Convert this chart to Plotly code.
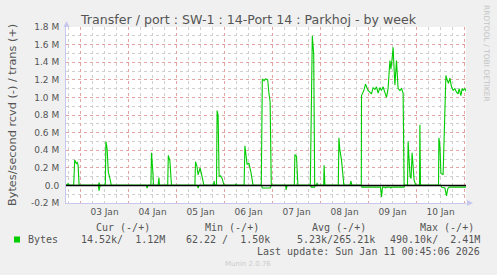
import plotly.graph_objects as go
import pandas as pd

# ---- data (values in M bytes/second, time in hours since 2026-01-02 00:00) ----
trans_hours = [16.75, 17.8, 18.4, 20.6, 21.1, 21.9, 22.4, 22.8, 23.3, 32.9, 33.3, 33.7,
               36.4, 36.7, 37.3, 37.9, 38.7, 39.4, 59.2, 59.5, 60.2, 60.5, 62.8, 63.2, 63.5,
               67.6, 67.9, 68.7, 69.5, 81.2, 81.5, 82.2, 82.8, 83.8, 84.8, 85.7,
               90.5, 90.8, 91.2, 92.0, 92.3, 92.8, 93.3, 94.0, 94.8, 95.8,
               101.4, 101.7, 102.0, 105.8, 106.2, 106.7, 107.3, 108.2, 109.2, 110.3,
               114.4, 114.9, 115.8, 116.6, 117.6, 118.2, 118.8, 119.4,
               130.9, 131.2, 132.0, 132.7, 138.9, 139.9, 140.3, 140.6, 141.1,
               142.0, 142.3, 142.6, 145.6, 145.8, 146.2,
               152.9, 153.2, 153.7, 154.5, 155.0, 155.7, 158.7, 159.2, 159.7,
               164.4, 164.5, 165.7, 166.5, 167.8, 169.5, 170.3, 171.2, 172.0, 172.8,
               173.7, 174.5, 175.3, 177.0, 177.8, 178.7, 179.2, 179.8, 180.3, 180.8,
               181.2, 182.0, 182.8, 183.7, 184.5, 185.3, 185.8,
               187.5, 187.8, 188.3, 188.8, 189.3, 189.8, 190.3, 190.8, 191.7,
               193.5, 193.7, 194.0,
               203.0, 203.2, 203.7, 204.2, 205.3, 206.2, 206.7, 207.3, 208.0, 208.7,
               209.5, 210.3, 211.2, 212.0, 212.8, 213.3, 214.2, 214.8, 215.3, 216.2, 216.75]
trans_values = [0.00, 0.02, 0.00, 0.00, 0.29, 0.25, 0.26, 0.23, 0.00, 0.00, 0.03, 0.00,
                0.00, 0.50, 0.42, 0.15, 0.08, 0.00, 0.00, 0.37, 0.15, 0.00, 0.00, 0.09, 0.00,
                0.00, 0.34, 0.28, 0.00, 0.00, 0.27, 0.22, 0.12, 0.20, 0.10, 0.00,
                0.00, 0.05, 0.00, 0.00, 0.85, 0.80, 0.10, 0.11, 0.08, 0.00,
                0.00, 0.02, 0.00, 0.00, 0.45, 0.33, 0.24, 0.25, 0.15, 0.00,
                0.00, 1.21, 1.19, 1.21, 1.20, 1.05, 0.95, 0.00,
                0.00, 0.35, 0.33, 0.00, 0.00, 1.70, 1.52, 1.49, 0.00,
                0.00, 0.03, 0.00, 0.00, 0.23, 0.00,
                0.00, 0.54, 0.40, 0.29, 0.12, 0.00, 0.00, 0.05, 0.00,
                0.00, 1.02, 1.08, 1.15, 1.08, 1.04, 1.11, 1.09, 1.12, 1.05,
                1.11, 1.08, 1.12, 1.00, 1.10, 1.42, 1.32, 1.44, 1.57, 1.32,
                1.14, 1.42, 1.10, 1.08, 1.10, 1.05, 0.00,
                0.00, 0.50, 0.29, 0.10, 0.08, 0.37, 0.22, 0.06, 0.00,
                0.00, 0.69, 0.00,
                0.00, 0.54, 0.45, 0.14, 0.12, 0.94, 1.25, 1.20, 1.16, 1.22,
                1.12, 1.08, 1.10, 1.06, 1.04, 1.10, 1.02, 1.10, 1.08, 1.10, 1.07]

rcvd_hours = [16.75, 32.9, 33.3, 33.8, 57.0, 57.3, 57.7, 82.5, 82.8, 83.3,
              114.4, 114.9, 118.8, 119.4, 126.6, 126.8, 127.3, 139.0, 139.4, 141.0, 141.5,
              164.4, 164.7, 174.0, 174.5, 175.0, 176.2, 176.6, 177.0, 178.8, 179.2, 179.6,
              185.8, 186.1, 204.2, 204.5, 206.2, 207.0, 207.6, 208.3, 216.75]
rcvd_values = [0.00, 0.00, 0.06, 0.00, 0.00, 0.03, 0.00, 0.00, 0.03, 0.00,
               0.00, 0.03, 0.03, 0.00, 0.00, 0.05, 0.00, 0.00, 0.02, 0.02, 0.00,
               0.00, 0.02, 0.02, 0.13, 0.02, 0.02, 0.03, 0.02, 0.02, 0.03, 0.02,
               0.02, 0.00, 0.00, 0.02, 0.03, 0.12, 0.04, 0.02, 0.02]

y_ticks = [-0.2, 0.0, 0.2, 0.4, 0.6, 0.8, 1.0, 1.2, 1.4, 1.6, 1.8]
y_tick_labels = ["-0.2 M", "0.0", "0.2 M", "0.4 M", "0.6 M", "0.8 M", "1.0 M",
                 "1.2 M", "1.4 M", "1.6 M", "1.8 M"]

title = "Transfer / port : SW-1 : 14-Port 14 : Parkhoj - by week"
y_title = "Bytes/second rcvd (-) / trans (+)"
legend_headers = ["Cur (-/+)", "Min (-/+)", "Avg (-/+)", "Max (-/+)"]
legend_values = ["14.52k/\u00a0\u00a01.12M", "62.22 /\u00a0\u00a01.50k",
                 "5.23k/265.21k", "490.10k/\u00a0\u00a02.41M"]
series_name = "Bytes"
last_update = "Last update: Sun Jan 11 00:45:06 2026"

base = pd.Timestamp("2026-01-02 00:00:00")
t_start = base + pd.to_timedelta(16.75, unit="h")
t_end = base + pd.to_timedelta(216.75, unit="h")

trans_t = [base + pd.to_timedelta(h, unit="h") for h in trans_hours]
rcvd_t = [base + pd.to_timedelta(h, unit="h") for h in rcvd_hours]

GREEN = "#00CC00"
W, H = 497, 275
L, R, T, B = 66, 466, 27, 203


def px(x):
    return (x - L) / (R - L)


def py(y):
    return (B - y) / (B - T)


fig = go.Figure()
fig.add_trace(go.Scatter(x=rcvd_t, y=[-v for v in rcvd_values], mode="lines",
                         line=dict(color=GREEN, width=1.1), hoverinfo="skip"))
fig.add_trace(go.Scatter(x=trans_t, y=trans_values, mode="lines",
                         line=dict(color=GREEN, width=1.1), hoverinfo="skip"))

SANS = "DejaVu Sans"
MONO = "DejaVu Sans Mono"
TXT = "#555555"

fig.update_layout(
    width=W, height=H,
    margin=dict(l=L, r=W - R, t=T, b=H - B, pad=0),
    paper_bgcolor="#F0F0F0",
    plot_bgcolor="#FFFFFF",
    showlegend=False,
    xaxis=dict(
        type="date", range=[t_start, t_end],
        tick0="2026-01-03", dtick=86400000, ticklabelmode="period",
        tickformat="%d %b",
        tickfont=dict(family=SANS, size=9, color=TXT),
        showgrid=True, gridcolor="#E6A3A3", griddash="dot", gridwidth=1,
        minor=dict(dtick=6 * 3600000, showgrid=True, gridcolor="#CFCFCF",
                   griddash="dot", gridwidth=1),
        ticks="", showline=True, linecolor="#C8C8EE", linewidth=1,
        zeroline=False, fixedrange=True,
    ),
    yaxis=dict(
        range=[-0.2, 1.8], tickvals=y_ticks, ticktext=y_tick_labels,
        tickfont=dict(family=SANS, size=9, color=TXT),
        showgrid=True, gridcolor="#E6A3A3", griddash="dot", gridwidth=1,
        minor=dict(dtick=0.1, tick0=0, showgrid=True, gridcolor="#CFCFCF",
                   griddash="dot", gridwidth=1),
        ticks="", ticklabelstandoff=4,
        showline=True, linecolor="#C8C8EE", linewidth=1,
        zeroline=False, fixedrange=True,
    ),
)

shapes = [
    # zero line
    dict(type="line", xref="paper", yref="y", x0=0, x1=1, y0=0, y1=0,
         line=dict(color="#000000", width=1.5), layer="above"),
    # legend colour box
    dict(type="rect", xref="paper", yref="paper", x0=px(14), x1=px(20),
         y0=py(242.5), y1=py(236.5), fillcolor=GREEN, line=dict(width=0)),
    # axis arrows
    dict(type="path", xref="paper", yref="paper",
         path=f"M {px(63.5)} {py(27)} L {px(69.5)} {py(27)} L {px(66.5)} {py(21)} Z",
         fillcolor="#C8C8EE", line=dict(width=0)),
    dict(type="path", xref="paper", yref="paper",
         path=f"M {px(467)} {py(200)} L {px(467)} {py(206)} L {px(473)} {py(203)} Z",
         fillcolor="#C8C8EE", line=dict(width=0)),
]
fig.update_layout(shapes=shapes)

ann = []
ann.append(dict(text=title, x=px(248.5), y=py(19), xanchor="center", yanchor="middle",
                font=dict(family=SANS, size=12.6, color=TXT)))
ann.append(dict(text=y_title, x=px(12), y=py(115), xanchor="center", yanchor="middle",
                textangle=-90, font=dict(family=SANS, size=11.3, color=TXT)))
ann.append(dict(text="RRDTOOL / TOBI OETIKER", x=px(487), y=py(53), xanchor="center",
                yanchor="middle", textangle=90,
                font=dict(family=SANS, size=7.5, color="#C4C4C4")))
header_right = [152, 261, 368, 476]
value_right = [167, 272, 377, 482]
for txt, xr in zip(legend_headers, header_right):
    ann.append(dict(text=txt, x=px(xr), y=py(227.7), xanchor="right", yanchor="middle",
                    font=dict(family=MONO, size=10, color=TXT)))
for txt, xr in zip(legend_values, value_right):
    ann.append(dict(text=txt, x=px(xr), y=py(239.5), xanchor="right", yanchor="middle",
                    font=dict(family=MONO, size=10, color=TXT)))
ann.append(dict(text=series_name, x=px(26), y=py(239.5), xanchor="left", yanchor="middle",
                font=dict(family=MONO, size=10, color=TXT)))
ann.append(dict(text=last_update, x=px(482), y=py(251.7), xanchor="right", yanchor="middle",
                font=dict(family=MONO, size=10, color=TXT)))
ann.append(dict(text="Munin 2.0.76", x=px(248), y=py(264.3), xanchor="center",
                yanchor="middle", font=dict(family=SANS, size=7, color="#CCCCCC")))
for a in ann:
    a.update(xref="paper", yref="paper", showarrow=False)
fig.update_layout(annotations=ann)

fig.write_html("out.html")
